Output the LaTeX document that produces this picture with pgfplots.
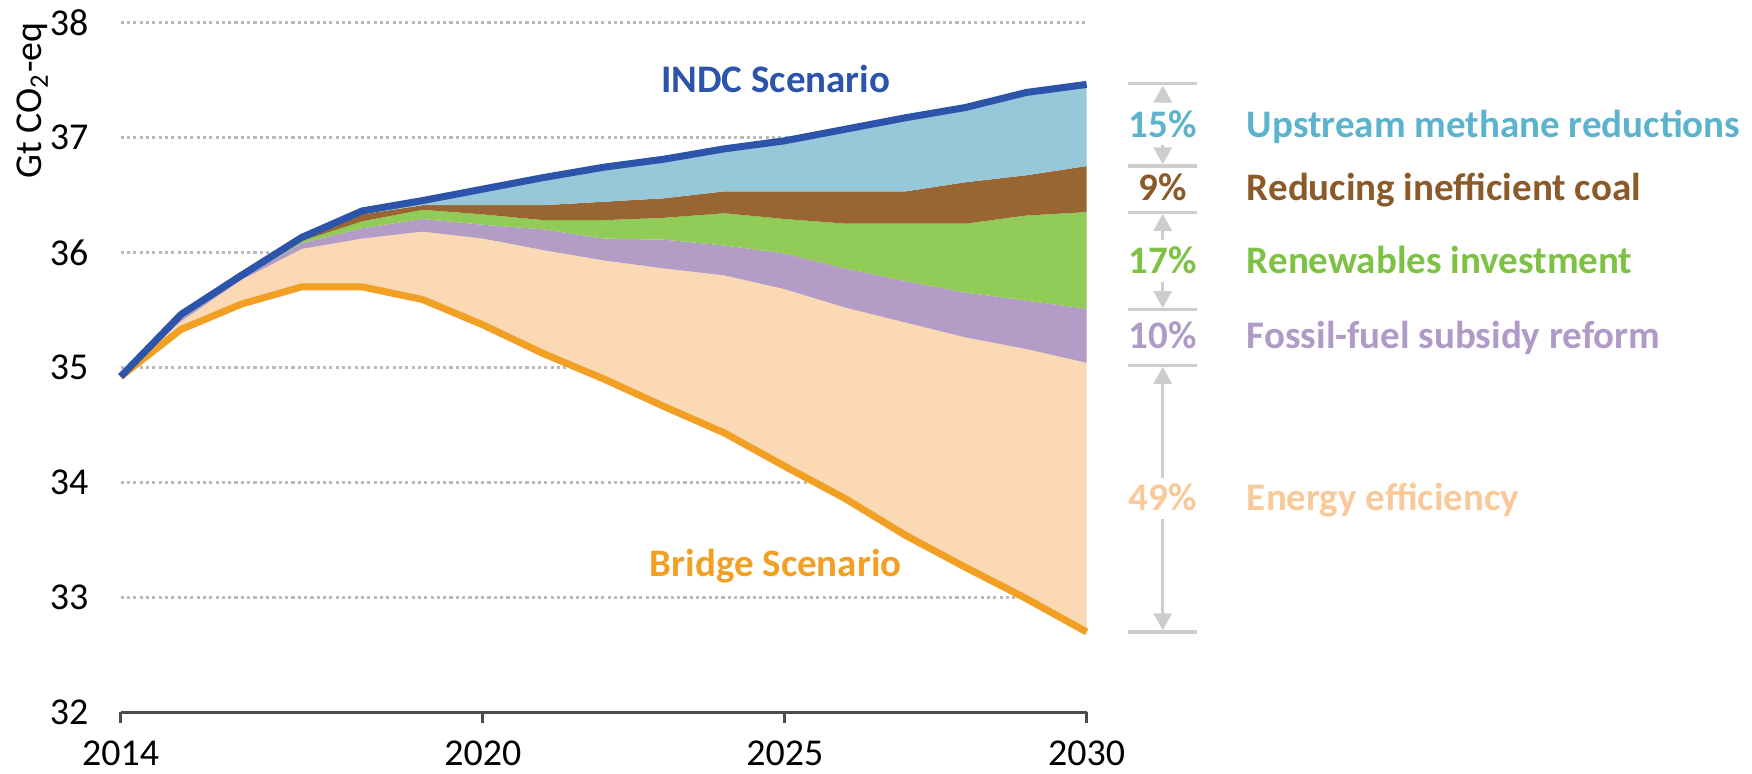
\documentclass[border=0pt]{standalone}
\usepackage{fontspec}
\setmainfont{Carlito}
\usepackage{pgfplots}
\pgfplotsset{compat=1.18}
\usepackage{pgfplotstable}
\usepgfplotslibrary{fillbetween}
\usetikzlibrary{arrows.meta}

\definecolor{cindc}{RGB}{43,84,170}
\definecolor{cbridge}{RGB}{242,160,36}
\definecolor{ceff}{RGB}{250,217,180}
\definecolor{cfs}{RGB}{179,157,198}
\definecolor{cre}{RGB}{146,204,88}
\definecolor{ccoal}{RGB}{153,102,51}
\definecolor{cmeth}{RGB}{150,200,218}
\definecolor{tmeth}{RGB}{92,179,205}
\definecolor{tcoal}{RGB}{140,90,40}
\definecolor{tre}{RGB}{125,194,66}
\definecolor{tfs}{RGB}{176,154,198}
\definecolor{teff}{RGB}{249,201,153}
\definecolor{gline}{RGB}{205,205,205}

% boundaries of the stacked wedges, Gt CO2-eq
\pgfplotstableread{
year bridge ee    fs    re    coal  indc
2014 34.92 34.92 34.92 34.92 34.92 34.92
2015 35.33 35.40 35.42 35.43 35.44 35.46
2016 35.55 35.76 35.78 35.79 35.79 35.80
2017 35.70 36.03 36.08 36.10 36.11 36.13
2018 35.70 36.12 36.21 36.27 36.33 36.36
2019 35.59 36.18 36.29 36.37 36.41 36.45
2020 35.37 36.12 36.24 36.33 36.41 36.55
2021 35.12 36.02 36.20 36.28 36.41 36.65
2022 34.90 35.93 36.12 36.28 36.44 36.74
2023 34.66 35.86 36.11 36.30 36.47 36.81
2024 34.43 35.80 36.06 36.34 36.53 36.90
2025 34.14 35.68 35.99 36.29 36.53 36.97
2026 33.86 35.52 35.86 36.25 36.53 37.07
2027 33.54 35.39 35.75 36.25 36.53 37.17
2028 33.26 35.26 35.65 36.25 36.61 37.26
2029 32.99 35.16 35.58 36.32 36.67 37.39
2030 32.70 35.04 35.51 36.35 36.75 37.46
}\data

\newcommand{\lbl}{\fontsize{10.8}{13}\selectfont}
\newcommand{\blbl}{\fontsize{11.1}{13}\selectfont\bfseries}

\begin{document}
\begin{tikzpicture}
\begin{axis}[
  scale only axis, width=96.64mm, height=69.05mm,
  xmin=2014, xmax=2030, ymin=32, ymax=38,
  clip=false,
  axis x line*=bottom, axis y line*=left,
  y axis line style={draw=none},
  x axis line style={draw=black!70, line width=0.8pt},
  xtick={2014,2020,2025,2030},
  ytick={32},
  extra y ticks={33,34,35,36,37,38},
  extra y tick style={ymajorgrids=true},
  major grid style={draw=black!27, line width=0.9pt, dash pattern=on 0.9pt off 0.9pt},
  ytick style={draw=none},
  tick align=outside,
  xtick style={draw=black!70, line width=0.8pt},
  major tick length=1.1mm,
  tick label style={font=\lbl, black},
  yticklabel style={xshift=-0.9mm, inner ysep=0pt},
  xticklabel style={inner sep=0pt, yshift=-1.7mm},
  /pgf/number format/1000 sep={},
  /pgf/number format/assume math mode=true,
]
\addplot[draw=none, name path=bridge] table[x=year, y=bridge] {\data};
\addplot[draw=none, name path=ee] table[x=year, y=ee] {\data};
\addplot[draw=none, name path=fs] table[x=year, y=fs] {\data};
\addplot[draw=none, name path=re] table[x=year, y=re] {\data};
\addplot[draw=none, name path=coal] table[x=year, y=coal] {\data};
\addplot[draw=none, name path=indc] table[x=year, y=indc] {\data};

\addplot[fill=ceff, draw=none] fill between[of=ee and bridge];
\addplot[fill=cfs, draw=none] fill between[of=fs and ee];
\addplot[fill=cre, draw=none] fill between[of=re and fs];
\addplot[fill=ccoal, draw=none] fill between[of=coal and re];
\addplot[fill=cmeth, draw=none] fill between[of=indc and coal];

\addplot[cbridge, line width=2pt, line join=round] table[x=year, y=bridge] {\data};
\addplot[cindc, line width=2pt, line join=round] table[x=year, y=indc] {\data};

\node[anchor=base, text=cindc, font=\blbl] at (axis cs:2024.85,37.39) {INDC Scenario};
\node[anchor=base, text=cbridge, font=\blbl] at (axis cs:2024.85,33.18) {Bridge Scenario};

\node[anchor=base, rotate=90, font=\lbl] at ([xshift=-7.87mm]axis cs:2014,37.32) {Gt CO\textsubscript{2}-eq};

% brackets at the right
\draw[gline, line width=0.9pt] (axis cs:2030.68,37.466) -- (axis cs:2031.83,37.466);
\draw[gline, line width=0.9pt] (axis cs:2030.68,36.75) -- (axis cs:2031.83,36.75);
\draw[gline, line width=0.9pt] (axis cs:2030.68,36.35) -- (axis cs:2031.83,36.35);
\draw[gline, line width=0.9pt] (axis cs:2030.68,35.50) -- (axis cs:2031.83,35.50);
\draw[gline, line width=0.9pt] (axis cs:2030.68,35.02) -- (axis cs:2031.83,35.02);
\draw[gline, line width=0.9pt] (axis cs:2030.68,32.70) -- (axis cs:2031.83,32.70);
\draw[gline, line width=0.9pt, -{Triangle[width=1.8mm,length=1.7mm]}] (axis cs:2031.26,37.30) -- (axis cs:2031.26,37.45);
\draw[gline, line width=0.9pt, -{Triangle[width=1.8mm,length=1.7mm]}] (axis cs:2031.26,36.93) -- (axis cs:2031.26,36.765);
\draw[gline, line width=0.9pt, -{Triangle[width=1.8mm,length=1.7mm]}] (axis cs:2031.26,36.11) -- (axis cs:2031.26,36.335);
\draw[gline, line width=0.9pt, -{Triangle[width=1.8mm,length=1.7mm]}] (axis cs:2031.26,35.74) -- (axis cs:2031.26,35.515);
\draw[gline, line width=0.9pt, -{Triangle[width=1.8mm,length=1.7mm]}] (axis cs:2031.26,34.04) -- (axis cs:2031.26,35.005);
\draw[gline, line width=0.9pt, -{Triangle[width=1.8mm,length=1.7mm]}] (axis cs:2031.26,33.68) -- (axis cs:2031.26,32.715);

\node[anchor=base, text=tmeth, font=\blbl] at (axis cs:2031.26,37.00) {15\%};
\node[anchor=base west, text=tmeth, font=\blbl] at (axis cs:2032.45,37.00) {Upstream methane reductions};
\node[anchor=base, text=tcoal, font=\blbl] at (axis cs:2031.26,36.45) {9\%};
\node[anchor=base west, text=tcoal, font=\blbl] at (axis cs:2032.45,36.45) {Reducing inefficient coal};
\node[anchor=base, text=tre, font=\blbl] at (axis cs:2031.26,35.815) {17\%};
\node[anchor=base west, text=tre, font=\blbl] at (axis cs:2032.45,35.815) {Renewables investment};
\node[anchor=base, text=tfs, font=\blbl] at (axis cs:2031.26,35.16) {10\%};
\node[anchor=base west, text=tfs, font=\blbl] at (axis cs:2032.45,35.16) {Fossil-fuel subsidy reform};
\node[anchor=base, text=teff, font=\blbl] at (axis cs:2031.26,33.755) {49\%};
\node[anchor=base west, text=teff, font=\blbl] at (axis cs:2032.45,33.755) {Energy efficiency};
\end{axis}
\path (-12.07mm,-6.12mm) rectangle (163.13mm,71.28mm);
\end{tikzpicture}
\end{document}
